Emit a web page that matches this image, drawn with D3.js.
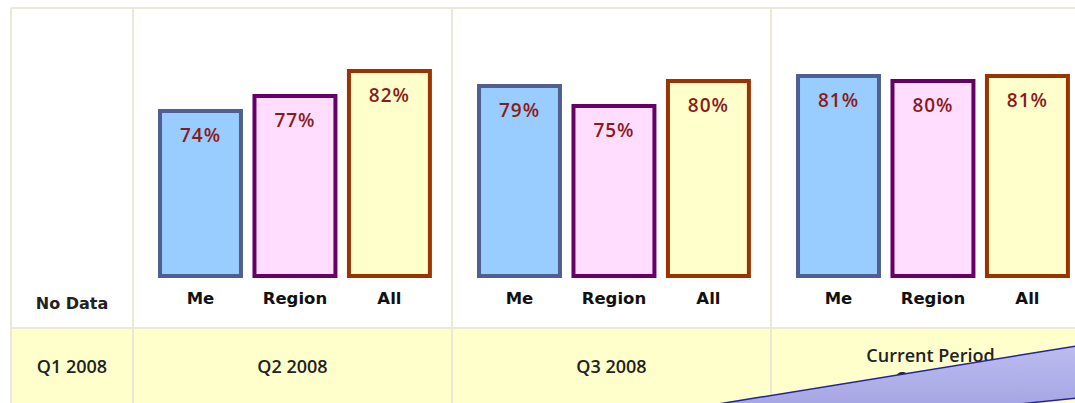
<!DOCTYPE html>
<html>
<head>
<meta charset="utf-8">
<script src="https://cdn.jsdelivr.net/npm/d3@7"></script>
<style>
  body { margin: 0; background: #fff; }
  svg { display: block; }
</style>
</head>
<body>
<svg id="chart" width="1075" height="403"></svg>
<script>
var periods = ["Q2 2008", "Q3 2008", "Current Period"];
var series = ["Me", "Region", "All"];
var meValues = [74, 79, 81];
var regionValues = [77, 75, 80];
var allValues = [82, 80, 81];
var firstPeriod = "Q1 2008";
var noDataLabel = "No Data";
var currentSub = "Q4 2008";

var fills = { Me: "#99ccff", Region: "#ffddff", All: "#ffffcc" };
var strokes = { Me: "#4f5f8f", Region: "#660066", All: "#993300" };

var width = 1075, height = 403;
var tableLeft = 11, tableTop = 8, firstColRight = 133, rowSplit = 328;

var svg = d3.select("#chart");

// columns for each period, inner band for each series
var x0 = d3.scaleBand()
    .domain(periods)
    .range([firstColRight, 1090]);

var x1 = d3.scaleBand()
    .domain(series)
    .range([0, x0.bandwidth()])
    .paddingInner(0.143)
    .paddingOuter(0.26)
    .align(0.55);

var y = d3.scaleLinear()
    .domain([41, 82])
    .range([276, 71]);

var rows = periods.map(function(p, i) {
    return { period: p, values: [
        { key: "Me", value: meValues[i] },
        { key: "Region", value: regionValues[i] },
        { key: "All", value: allValues[i] }
    ] };
});

// table background + grid
svg.append("rect")
    .attr("x", tableLeft).attr("y", rowSplit)
    .attr("width", width - tableLeft).attr("height", height - rowSplit)
    .attr("fill", "#ffffcc");

var grid = svg.append("g")
    .attr("stroke", "#ebe9d6")
    .attr("stroke-width", 2);

grid.append("line")
    .attr("x1", tableLeft).attr("x2", width)
    .attr("y1", tableTop).attr("y2", tableTop);
grid.append("line")
    .attr("x1", tableLeft).attr("x2", width)
    .attr("y1", rowSplit).attr("y2", rowSplit);

var colEdges = [tableLeft].concat(periods.map(function(p) { return x0(p); }));
grid.selectAll("line.col")
    .data(colEdges)
    .enter().append("line")
    .attr("class", "col")
    .attr("x1", function(d) { return d; })
    .attr("x2", function(d) { return d; })
    .attr("y1", tableTop).attr("y2", height);

// bars
var group = svg.append("g")
    .selectAll("g")
    .data(rows)
    .enter().append("g")
    .attr("transform", function(d) { return "translate(" + x0(d.period) + ",0)"; });

group.selectAll("rect")
    .data(function(d) { return d.values; })
    .enter().append("rect")
    .attr("x", function(d) { return x1(d.key); })
    .attr("y", function(d) { return y(d.value); })
    .attr("width", x1.bandwidth())
    .attr("height", function(d) { return y.range()[0] - y(d.value); })
    .attr("fill", function(d) { return fills[d.key]; })
    .attr("stroke", function(d) { return strokes[d.key]; })
    .attr("stroke-width", 4);

group.selectAll("text.val")
    .data(function(d) { return d.values; })
    .enter().append("text")
    .attr("class", "val")
    .attr("x", function(d) { return x1(d.key) + x1.bandwidth() / 2; })
    .attr("y", function(d) { return y(d.value) + 31; })
    .attr("text-anchor", "middle")
    .attr("font-family", "Open Sans, sans-serif")
    .attr("font-weight", 600)
    .attr("font-size", 19)
    .attr("letter-spacing", 1)
    .attr("fill", "#8b1a1a")
    .text(function(d) { return d.value + "%"; });

group.selectAll("text.cat")
    .data(function(d) { return d.values; })
    .enter().append("text")
    .attr("class", "cat")
    .attr("x", function(d) { return x1(d.key) + x1.bandwidth() / 2; })
    .attr("y", 304)
    .attr("text-anchor", "middle")
    .attr("font-family", "DejaVu Sans, sans-serif")
    .attr("font-weight", "bold")
    .attr("font-size", 16.5)
    .attr("fill", "#111")
    .text(function(d) { return d.key; });

// first column
svg.append("text")
    .attr("x", (tableLeft + firstColRight) / 2).attr("y", 309)
    .attr("text-anchor", "middle")
    .attr("font-family", "DejaVu Sans, sans-serif")
    .attr("font-weight", "bold")
    .attr("font-size", 16)
    .attr("fill", "#222")
    .text(noDataLabel);

// period labels in the bottom row
var labels = [{ name: firstPeriod, cx: (tableLeft + firstColRight) / 2 }].concat(periods.map(function(p) {
    return { name: p, cx: x0(p) + x0.bandwidth() / 2 };
}));

svg.append("g").selectAll("text")
    .data(labels)
    .enter().append("text")
    .attr("x", function(d) { return d.cx; })
    .attr("y", function(d) { return d.name === "Current Period" ? 362 : 373; })
    .attr("text-anchor", "middle")
    .attr("font-family", "Open Sans, sans-serif")
    .attr("font-weight", 600)
    .attr("font-size", 18)
    .attr("fill", "#222")
    .text(function(d) { return d.name; });

svg.append("text")
    .attr("x", x0("Current Period") + x0.bandwidth() / 2).attr("y", 385)
    .attr("text-anchor", "middle")
    .attr("font-family", "Open Sans, sans-serif")
    .attr("font-weight", 600)
    .attr("font-size", 18)
    .attr("fill", "#222")
    .text(currentSub);

// overlapping arrow shape at the bottom right
var defs = svg.append("defs");
var grad = defs.append("linearGradient")
    .attr("id", "arrowFill")
    .attr("x1", 0).attr("y1", 0).attr("x2", 0).attr("y2", 1);
grad.append("stop").attr("offset", "0%").attr("stop-color", "#bcbcf0");
grad.append("stop").attr("offset", "100%").attr("stop-color", "#a6a6e4");

svg.append("path")
    .attr("d", "M712,405 L1077,346 L1077,398 L1010,405 Z")
    .attr("fill", "url(#arrowFill)")
    .attr("stroke", "#23239a")
    .attr("stroke-width", 1.5);
</script>
</body>
</html>
